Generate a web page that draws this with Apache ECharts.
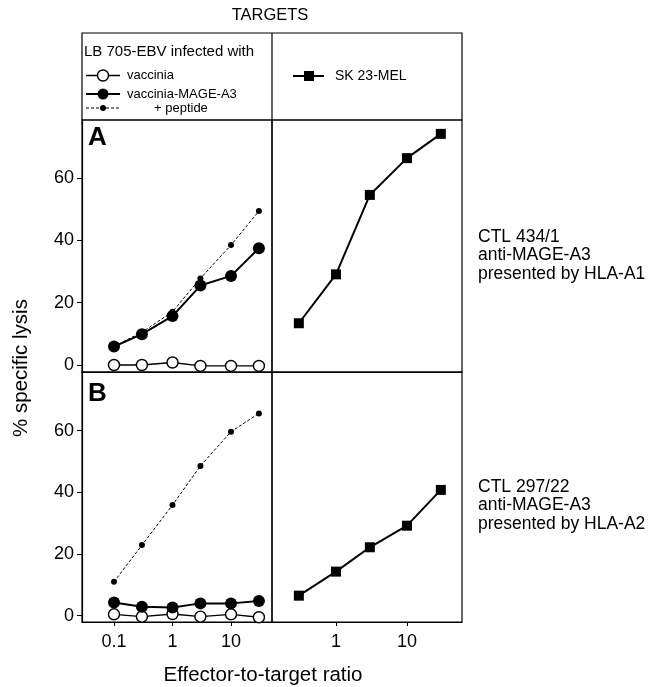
<!DOCTYPE html>
<html>
<head>
<meta charset="utf-8">
<script src="https://cdn.jsdelivr.net/npm/echarts@6/dist/echarts.min.js"></script>
<style>
html, body { margin: 0; padding: 0; background: #fff; }
#chart { width: 650px; height: 687px; }
</style>
</head>
<body>
<div id="chart"></div>
<script>
// E:T ratios
var ratioLeft = [0.1, 0.3, 1, 3, 10, 30];
var ratioRight = [0.3, 1, 3, 10, 30];

// panel A (CTL 434/1)
var aVaccinia = [0, 0, 0.8, -0.3, -0.3, -0.3];
var aMage = [5.9, 9.9, 15.7, 25.5, 28.6, 37.5];
var aPeptide = [6, 10.5, 17.1, 27.8, 38.5, 49.4];
var aSk23 = [13.4, 29.1, 54.6, 66.4, 74.2];

// panel B (CTL 297/22)
var bVaccinia = [0.45, -0.3, 0.55, -0.3, 0.45, -0.5];
var bMage = [4.3, 2.9, 2.7, 4.0, 4.0, 4.8];
var bPeptide = [11.0, 22.9, 35.9, 48.6, 59.7, 65.6];
var bSk23 = [6.5, 14.3, 22.2, 29.2, 40.8];

var yTicks = [0, 20, 40, 60];
var xTicksLeft = [0.1, 1, 10];
var xTicksRight = [1, 10];

var FONT = "'Liberation Sans', Arial, sans-serif";

function zip(xs, ys) {
	var out = [];
	for (var i = 0; i < xs.length; i++) out.push([xs[i], ys[i]]);
	return out;
}

function xAxis(grid, min, max, ticks, showTicks) {
	return {
		type: 'log', logBase: 10, gridIndex: grid, min: min, max: max,
		axisLine: { show: true, onZero: false, lineStyle: { color: '#000', width: 1.2 } },
		axisTick: { show: showTicks, length: 4, customValues: ticks, lineStyle: { color: '#000' } },
		axisLabel: { show: showTicks, customValues: ticks, margin: 11, color: '#000', fontSize: 18, fontFamily: FONT },
		splitLine: { show: false }, minorTick: { show: false }
	};
}

function yAxis(grid, min, max, showLabels) {
	return {
		type: 'value', gridIndex: grid, min: min, max: max,
		axisLine: { show: showLabels, onZero: false, lineStyle: { color: '#000', width: 1.2 } },
		axisTick: { show: showLabels, length: 5, customValues: yTicks, lineStyle: { color: '#000' } },
		axisLabel: { show: showLabels, customValues: yTicks, margin: 8, color: '#000', fontSize: 18, fontFamily: FONT },
		splitLine: { show: false }
	};
}

function vaccinia(ax, data) {
	return { type: 'line', xAxisIndex: ax, yAxisIndex: ax, data: data, symbol: 'circle', symbolSize: 11,
		itemStyle: { color: '#fff', borderColor: '#000', borderWidth: 1.4 },
		lineStyle: { color: '#000', width: 1.3 }, z: 3 };
}
function mage(ax, data) {
	return { type: 'line', xAxisIndex: ax, yAxisIndex: ax, data: data, symbol: 'circle', symbolSize: 12,
		itemStyle: { color: '#000' }, lineStyle: { color: '#000', width: 2 }, z: 4 };
}
function peptide(ax, data) {
	return { type: 'line', xAxisIndex: ax, yAxisIndex: ax, data: data, symbol: 'circle', symbolSize: 6,
		itemStyle: { color: '#000' }, lineStyle: { color: '#000', width: 1, type: [3, 2] }, z: 2 };
}
function sk23(ax, data) {
	return { type: 'line', xAxisIndex: ax, yAxisIndex: ax, data: data, symbol: 'rect', symbolSize: 10,
		itemStyle: { color: '#000' }, lineStyle: { color: '#000', width: 2 }, z: 3 };
}

function txt(x, y, s, size, opts) {
	var style = { x: x, y: y, text: s, fill: '#000', font: (opts && opts.bold ? 'bold ' : '') + size + 'px ' + FONT,
		textAlign: (opts && opts.align) || 'left', textVerticalAlign: 'middle' };
	var el = { type: 'text', style: style, z: 10 };
	if (opts && opts.rotation) { el.rotation = opts.rotation; el.x = x; el.y = y; style.x = 0; style.y = 0; }
	return el;
}
function seg(x1, y1, x2, y2, w, dash) {
	return { type: 'line', shape: { x1: x1, y1: y1, x2: x2, y2: y2 }, style: { stroke: '#000', lineWidth: w, lineDash: dash || null }, z: 10 };
}

var gridStyle = { show: true, borderColor: '#000', borderWidth: 1.2, backgroundColor: 'transparent' };

var chart = echarts.init(document.getElementById('chart'));
chart.setOption({
	animation: false,
	backgroundColor: '#fff',
	grid: [
		Object.assign({ left: 82, top: 120, width: 190, height: 252 }, gridStyle),
		Object.assign({ left: 272, top: 120, width: 190, height: 252 }, gridStyle),
		Object.assign({ left: 82, top: 372, width: 190, height: 250 }, gridStyle),
		Object.assign({ left: 272, top: 372, width: 190, height: 250 }, gridStyle)
	],
	xAxis: [
		xAxis(0, 0.02838, 50.2, xTicksLeft, false),
		xAxis(1, 0.1256, 59.6, xTicksRight, false),
		xAxis(2, 0.02838, 50.2, xTicksLeft, true),
		xAxis(3, 0.1256, 59.6, xTicksRight, true)
	],
	yAxis: [
		yAxis(0, -2.25, 78.65, true),
		yAxis(1, -2.25, 78.65, false),
		yAxis(2, -2.04, 79.05, true),
		yAxis(3, -2.04, 79.05, false)
	],
	series: [
		peptide(0, zip(ratioLeft, aPeptide)),
		mage(0, zip(ratioLeft, aMage)),
		vaccinia(0, zip(ratioLeft, aVaccinia)),
		sk23(1, zip(ratioRight, aSk23)),
		peptide(2, zip(ratioLeft, bPeptide)),
		mage(2, zip(ratioLeft, bMage)),
		vaccinia(2, zip(ratioLeft, bVaccinia)),
		sk23(3, zip(ratioRight, bSk23))
	],
	graphic: [
		txt(270, 15, 'TARGETS', 16.5, { align: 'center' }),
		{ type: 'rect', shape: { x: 82, y: 33, width: 380, height: 87 }, style: { fill: null, stroke: '#000', lineWidth: 1.2 }, z: 10 },
		seg(272, 33, 272, 120, 1.2),
		txt(84, 52, 'LB 705-EBV infected with', 15),
		seg(86, 75.5, 120, 75.5, 1.3),
		{ type: 'circle', shape: { cx: 103, cy: 75.5, r: 5.5 }, style: { fill: '#fff', stroke: '#000', lineWidth: 1.4 }, z: 11 },
		txt(127, 75.5, 'vaccinia', 13),
		seg(86, 94, 120, 94, 2),
		{ type: 'circle', shape: { cx: 103, cy: 94, r: 5.5 }, style: { fill: '#000' }, z: 11 },
		txt(127, 94, 'vaccinia-MAGE-A3', 13),
		seg(86, 108, 120, 108, 1, [3, 2]),
		{ type: 'circle', shape: { cx: 103, cy: 108, r: 3 }, style: { fill: '#000' }, z: 11 },
		txt(154, 108, '+ peptide', 13),
		seg(293, 76, 324, 76, 2),
		{ type: 'rect', shape: { x: 304, y: 71, width: 10, height: 10 }, style: { fill: '#000' }, z: 11 },
		txt(335, 76, 'SK 23-MEL', 14),
		txt(88, 137.5, 'A', 26, { bold: true }),
		txt(88, 394, 'B', 26, { bold: true }),
		txt(478, 237, 'CTL 434/1', 17.5),
		txt(478, 255.5, 'anti-MAGE-A3', 17.5),
		txt(478, 274, 'presented by HLA-A1', 17.5),
		txt(478, 487, 'CTL 297/22', 17.5),
		txt(478, 505.5, 'anti-MAGE-A3', 17.5),
		txt(478, 524, 'presented by HLA-A2', 17.5),
		txt(21, 368, '% specific lysis', 20.5, { align: 'center', rotation: Math.PI / 2 }),
		txt(263, 675, 'Effector-to-target ratio', 20.5, { align: 'center' })
	]
});
</script>
</body>
</html>
